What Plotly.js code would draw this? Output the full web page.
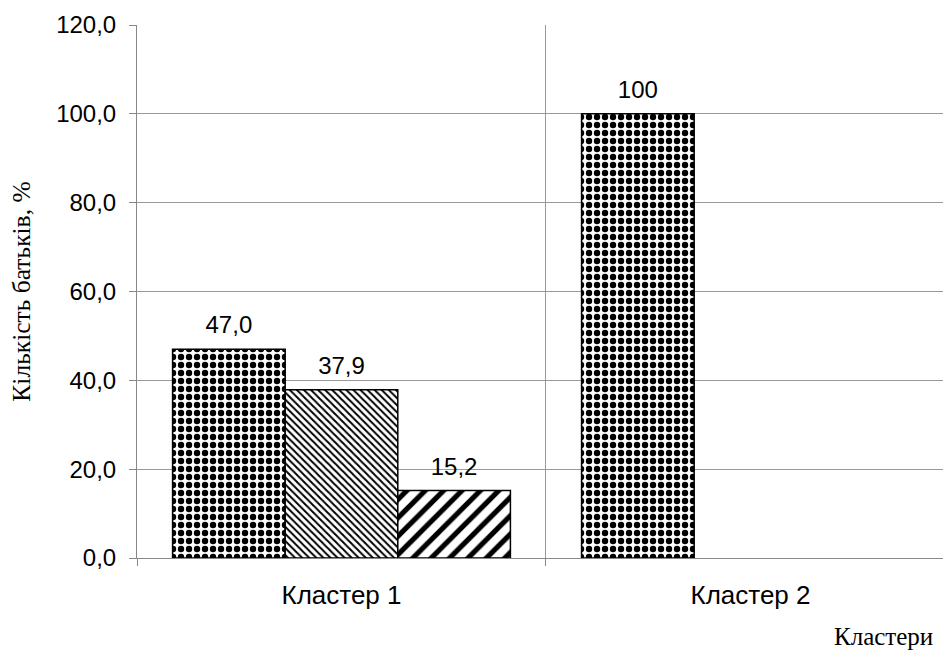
<!DOCTYPE html>
<html>
<head>
<meta charset="utf-8">
<script src="https://cdn.plot.ly/plotly-3.0.1.min.js"></script>
<style>html,body{margin:0;padding:0;background:#fff;}#chart{width:943px;height:655px;}</style>
</head>
<body>
<div id="chart"></div>
<script>
const categories = ["Кластер 1", "Кластер 2"];
const series1 = [47.0, 100];
const series2 = [37.9, null];
const series3 = [15.2, null];
const labels1 = ["47,0", "100"];
const labels2 = ["37,9", ""];
const labels3 = ["15,2", ""];
const yTitle = "Кількість батьків, %";
const xTitle = "Кластери";

const xpos = categories.map((c, i) => i);
function sans(sz) { return {family: "Liberation Sans, Arial, sans-serif", size: sz, color: "#000"}; }
function serif(sz) { return {family: "Liberation Serif, Times New Roman, serif", size: sz, color: "#000"}; }
function mkBar(vals, grp, pattern) {
  return {
    type: "bar", x: xpos, y: vals, offsetgroup: grp, hoverinfo: "skip",
    marker: {color: "#fff", line: {color: "#000", width: 1.5}, pattern: pattern}
  };
}
function mkLbl(vals, txt, grp) {
  return {
    type: "scatter", mode: "markers+text", x: xpos, y: vals, text: txt, offsetgroup: grp,
    textposition: "top center", textfont: sans(24), cliponaxis: false, hoverinfo: "skip",
    marker: {size: 14, color: "rgba(0,0,0,0)"}
  };
}
const data = [
  mkBar(series1, "a", {shape: ".", size: 8, solidity: 0.5, fgcolor: "#000", bgcolor: "#fff", fgopacity: 1, fillmode: "overlay"}),
  mkBar(series2, "b", {shape: "\\", size: 5, solidity: 0.4, fgcolor: "#000", bgcolor: "#fff", fgopacity: 1, fillmode: "overlay"}),
  mkBar(series3, "c", {shape: "/", size: 13, solidity: 0.4, fgcolor: "#000", bgcolor: "#fff", fgopacity: 1, fillmode: "overlay"}),
  mkLbl(series1, labels1, "a"),
  mkLbl(series2, labels2, "b"),
  mkLbl(series3, labels3, "c")
];
const layout = {
  width: 943, height: 655,
  margin: {l: 137, r: 0, t: 25, b: 97},
  paper_bgcolor: "#fff", plot_bgcolor: "#fff",
  separators: ", ",
  showlegend: false,
  barmode: "group", bargap: 0.174, bargroupgap: 0,
  scattermode: "group", scattergap: 0.174,
  font: sans(20),
  xaxis: {
    range: [-0.5, 1.4707], tickmode: "array", tickvals: xpos, ticktext: categories,
    ticks: "", showgrid: false, zeroline: false,
    showline: true, linecolor: "#888", linewidth: 1,
    ticklabelstandoff: 14,
    tickfont: sans(26),
    minor: {tickmode: "array", tickvals: [-0.5, 0.5, 1.5], ticks: "outside", ticklen: 7, tickcolor: "#888", tickwidth: 1, showgrid: true, gridcolor: "#999", gridwidth: 1}
  },
  yaxis: {
    range: [0, 120], dtick: 20, tick0: 0, tickformat: ".1f",
    ticks: "outside", ticklen: 7, tickcolor: "#888", tickwidth: 1,
    showgrid: true, gridcolor: "#999", gridwidth: 1, zeroline: false,
    showline: true, linecolor: "#888", linewidth: 1,
    ticklabelstandoff: 8,
    tickfont: sans(24),
    title: {text: yTitle, font: serif(25.5), standoff: 18}
  },
  annotations: [{
    text: xTitle, xref: "paper", yref: "paper", x: 0.99, y: -0.148,
    xanchor: "right", yanchor: "middle", showarrow: false,
    font: serif(25)
  }]
};
Plotly.newPlot("chart", data, layout, {staticPlot: true});
</script>
</body>
</html>
